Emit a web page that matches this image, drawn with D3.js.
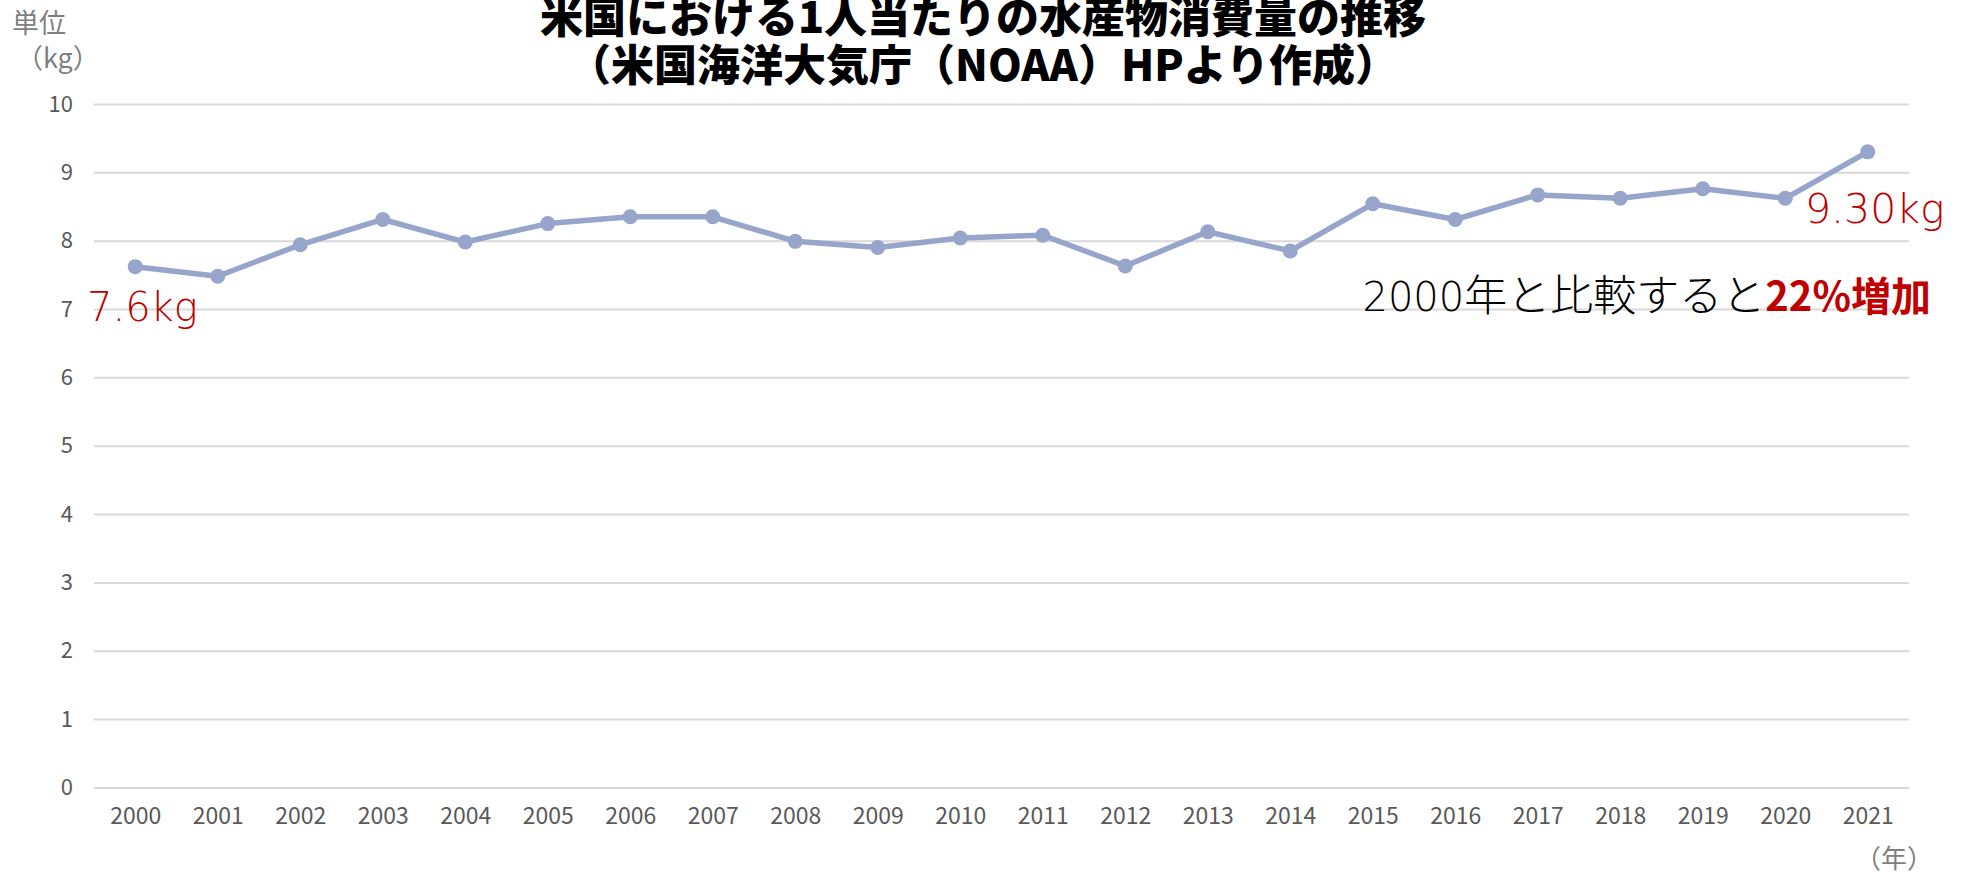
<!DOCTYPE html>
<html><head><meta charset="utf-8">
<script src="https://cdn.jsdelivr.net/npm/d3@7"></script>
<style>
html,body{margin:0;padding:0;background:#fff;}
svg{display:block;}
text{font-family:"Noto Sans CJK JP","Noto Sans",sans-serif;}
</style></head>
<body>
<svg id="chart" width="1966" height="874"></svg>
<script>
const years = ["2000","2001","2002","2003","2004","2005","2006","2007","2008","2009","2010","2011","2012","2013","2014","2015","2016","2017","2018","2019","2020","2021"];
const consumption = [7.62,7.48,7.94,8.31,7.98,8.25,8.35,8.35,7.99,7.90,8.04,8.08,7.63,8.13,7.85,8.54,8.31,8.67,8.62,8.76,8.62,9.30];
const yTicks = [0,1,2,3,4,5,6,7,8,9,10];
const titleLines = ["米国における1人当たりの水産物消費量の推移","（米国海洋大気庁（NOAA）HPより作成）"];
const unitLabel = ["単位","（kg）"];
const xUnit = "（年）";

const svg = d3.select("#chart");
const pLeft = 94, pRight = 1909, pTop = 104, pBottom = 787.4;

const x = d3.scalePoint().domain(years).range([pLeft, pRight]).padding(0.5);
const y = d3.scaleLinear().domain([0,10]).range([pBottom, pTop]);

// grid + y axis
const ya = svg.append("g").attr("transform",`translate(${pLeft},0)`)
  .call(d3.axisLeft(y).tickValues(yTicks).tickSize(-(pRight-pLeft)).tickPadding(21).tickFormat(d3.format("d")));
ya.select(".domain").remove();
ya.selectAll(".tick line").attr("stroke","#d9d9d9").attr("stroke-width",2);
ya.selectAll(".tick text").attr("fill","#595959").style("font-size","22px");

// x axis
const xa = svg.append("g").attr("transform",`translate(0,${pBottom})`)
  .call(d3.axisBottom(x).tickSize(0).tickPadding(20));
xa.select(".domain").remove();
xa.selectAll(".tick text").attr("fill","#595959").style("font-size","23px");

// line
const line = d3.line().x((d,i)=>x(years[i])).y(d=>y(d));
svg.append("path").datum(consumption).attr("d",line)
  .attr("fill","none").attr("stroke","#97a5ca").attr("stroke-width",5.5).attr("stroke-linejoin","round");
svg.selectAll("circle.pt").data(consumption).enter().append("circle")
  .attr("class","pt").attr("cx",(d,i)=>x(years[i])).attr("cy",d=>y(d)).attr("r",7.5).attr("fill","#97a5ca");

// titles
svg.selectAll("text.title").data(titleLines).enter().append("text")
  .attr("class","title").attr("x",983).attr("y",(d,i)=>33+i*48)
  .attr("text-anchor","middle").attr("fill","#000").style("font-weight","900").style("font-size","43px")
  .text(d=>d);

// unit labels
svg.append("text").attr("x",12).attr("y",33).attr("fill","#7f7f7f").style("font-size","27px").text(unitLabel[0]);
svg.append("text").attr("x",16).attr("y",68).attr("fill","#7f7f7f").style("font-size","27px").text(unitLabel[1]);
svg.append("text").attr("x",1855).attr("y",868).attr("fill","#7f7f7f").style("font-size","26px").text(xUnit);

// annotations
const geo = '"DejaVu Sans","Noto Sans CJK JP",sans-serif';
svg.append("text").attr("x",87).attr("y",321).attr("fill","#c00000").style("font-family",geo).style("font-size","40px").style("font-weight","200")
  .text(consumption[0].toFixed(1)+"kg");
svg.append("text").attr("x",1805).attr("y",223).attr("fill","#c00000").style("font-family",geo).style("font-size","41px").style("font-weight","200")
  .text(consumption[consumption.length-1].toFixed(2)+"kg");
const note = svg.append("text").attr("x",1931).attr("y",311).attr("text-anchor","end").style("font-size","40px");
note.append("tspan").attr("fill","#000").style("font-family",geo).style("font-weight","200").text("2000");
note.append("tspan").attr("fill","#000").style("font-weight","300").style("font-size","43px").text("年と比較すると");
note.append("tspan").attr("fill","#c00000").style("font-weight","700").text("22%増加");
</script>
</body></html>
